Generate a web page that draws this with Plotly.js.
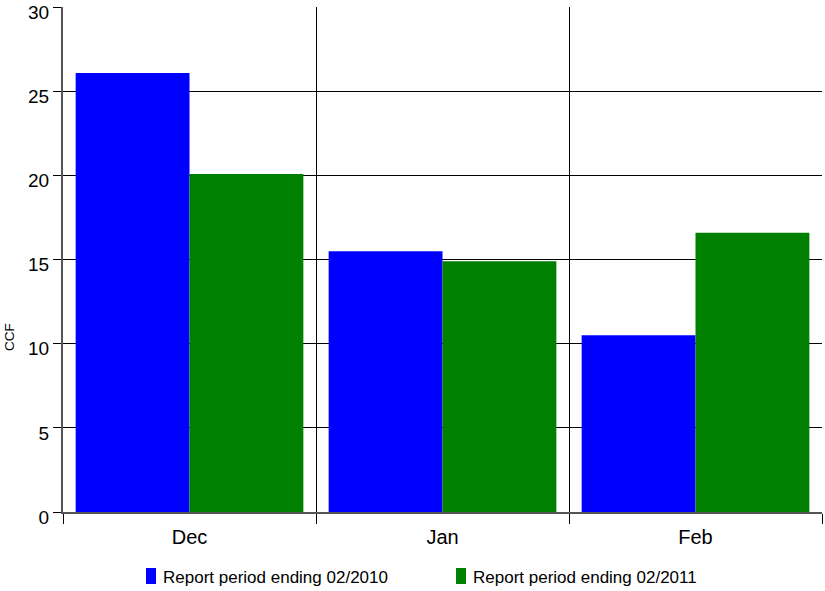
<!DOCTYPE html>
<html>
<head>
<meta charset="utf-8">
<script src="https://cdn.plot.ly/plotly-3.0.1.min.js"></script>
<style>html,body{margin:0;padding:0;background:#fff;}</style>
</head>
<body>
<div id="chart" style="width:825px;height:591px;"></div>
<script>
const months = ["Dec", "Jan", "Feb"];
const seriesNames = ["Report period ending 02/2010", "Report period ending 02/2011"];
const seriesColors = ["#0000ff", "#008000"];
const series1 = [26.1, 15.5, 10.5];
const series2 = [20.1, 14.9, 16.6];
const yTicks = [0, 5, 10, 15, 20, 25, 30];
const yTitle = "CCF";

const data = [
  {type: "bar", x: months, y: series1, name: seriesNames[0],
   marker: {color: seriesColors[0], line: {width: 0}}},
  {type: "bar", x: months, y: series2, name: seriesNames[1],
   marker: {color: seriesColors[1], line: {width: 0}}}
];

// plot area geometry (pixels)
const W = 825, H = 591, L = 63, R = 3, T = 7, B = 79;
const pw = W - L - R, ph = H - T - B;
const px = v => (v - L) / pw;          // page x -> paper x
const py = v => (H - B - v) / ph;      // page y -> paper y

// custom legend (tall rectangles like the reference)
const legendX = [146, 456];
const shapes = [], annotations = [];
seriesNames.forEach((n, i) => {
  shapes.push({type: "rect", xref: "paper", yref: "paper",
    x0: px(legendX[i]), x1: px(legendX[i] + 10), y0: py(568), y1: py(584),
    fillcolor: seriesColors[i], line: {width: 0}});
  annotations.push({xref: "paper", yref: "paper", x: px(legendX[i] + 15), y: py(577),
    xanchor: "left", yanchor: "middle", text: n, showarrow: false,
    font: {size: 17, color: "#000"}});
});
annotations.push({xref: "paper", yref: "paper", x: px(9), y: py(337), textangle: -90,
  xanchor: "center", yanchor: "middle", text: yTitle, showarrow: false,
  font: {size: 13.5, color: "#000"}});

const layout = {
  width: W, height: H,
  margin: {l: L, r: R, t: T, b: B, autoexpand: false},
  paper_bgcolor: "#fff", plot_bgcolor: "#fff",
  font: {family: "Liberation Sans, Arial, sans-serif", color: "#000"},
  barmode: "group", bargap: 0.1, bargroupgap: 0,
  showlegend: false,
  shapes: shapes, annotations: annotations,
  xaxis: {type: "category", tickson: "boundaries", showgrid: true, gridcolor: "#000", gridwidth: 1,
    ticks: "outside", ticklen: 10, tickcolor: "#000", tickwidth: 1,
    showline: true, linecolor: "#555", linewidth: 2,
    ticklabelstandoff: 6,
    tickfont: {size: 20, color: "#000"}, fixedrange: true},
  yaxis: {range: [0, 30.02], tickvals: yTicks, showgrid: true, gridcolor: "#000", gridwidth: 1,
    zeroline: false, ticks: "outside", ticklen: 8, tickcolor: "#000",
    showline: true, linecolor: "#555", linewidth: 2,
    ticklabeloverflow: "allow", ticklabelstandoff: 0, ticklabelshift: 5,
    tickfont: {size: 19, color: "#000"}}
};

Plotly.newPlot("chart", data, layout, {displayModeBar: false, staticPlot: true});
</script>
</body>
</html>
